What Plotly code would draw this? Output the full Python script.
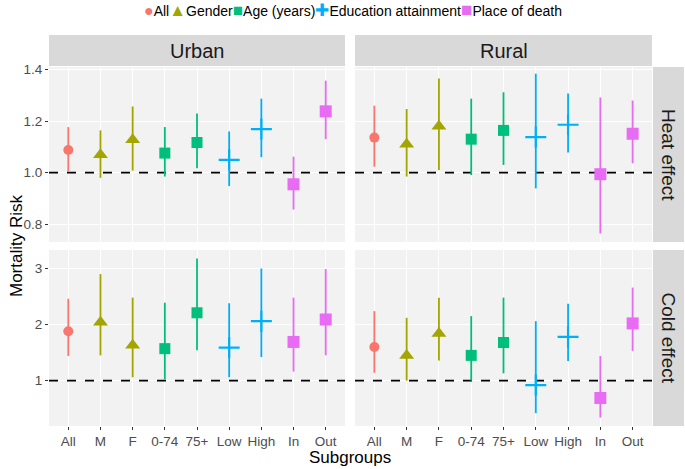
import plotly.graph_objects as go
from plotly.subplots import make_subplots

categories = ["All", "M", "F", "0-74", "75+", "Low", "High", "In", "Out"]
cat_group = ["All", "Gender", "Gender", "Age (years)", "Age (years)",
             "Education attainment", "Education attainment", "Place of death", "Place of death"]
groups = ["All", "Gender", "Age (years)", "Education attainment", "Place of death"]
group_colors = ["#F8766D", "#A3A500", "#00BF7D", "#00B0F6", "#E76BF3"]
group_symbols = ["circle", "triangle-up", "square", "cross-thin", "square"]
group_glyphs = ["●", "▲", "■", "✚", "■"]
group_sizes = [10, 13, 11, 15, 12]

heat_urban_est = [1.088, 1.070, 1.128, 1.076, 1.117, 1.050, 1.169, 0.955, 1.238]
heat_urban_lo = [1.004, 0.980, 1.008, 0.985, 1.017, 0.948, 1.060, 0.857, 1.130]
heat_urban_hi = [1.177, 1.164, 1.257, 1.177, 1.230, 1.160, 1.287, 1.062, 1.357]

heat_rural_est = [1.136, 1.110, 1.180, 1.130, 1.164, 1.138, 1.186, 0.994, 1.151]
heat_rural_lo = [1.023, 0.985, 1.010, 0.991, 1.030, 0.939, 1.078, 0.764, 1.037]
heat_rural_hi = [1.260, 1.247, 1.365, 1.287, 1.312, 1.384, 1.307, 1.292, 1.280]

cold_urban_est = [1.88, 2.04, 1.63, 1.57, 2.21, 1.59, 2.06, 1.69, 2.09]
cold_urban_lo = [1.44, 1.45, 1.06, 1.02, 1.54, 1.06, 1.42, 1.16, 1.45]
cold_urban_hi = [2.46, 2.90, 2.48, 2.39, 3.18, 2.38, 3.00, 2.48, 2.99]

cold_rural_est = [1.60, 1.45, 1.84, 1.45, 1.68, 0.92, 1.78, 0.69, 2.02]
cold_rural_lo = [1.14, 1.00, 1.36, 1.00, 1.13, 0.42, 1.35, 0.34, 1.53]
cold_rural_hi = [2.24, 2.12, 2.48, 2.15, 2.48, 2.06, 2.37, 1.44, 2.66]

col_labels = ["Urban", "Rural"]
row_labels = ["Heat effect", "Cold effect"]
heat_ticks = [0.8, 1.0, 1.2, 1.4]
cold_ticks = [1, 2, 3]
reference_value = 1.0

panels = {
    (1, 1): (heat_urban_est, heat_urban_lo, heat_urban_hi),
    (1, 2): (heat_rural_est, heat_rural_lo, heat_rural_hi),
    (2, 1): (cold_urban_est, cold_urban_lo, cold_urban_hi),
    (2, 2): (cold_rural_est, cold_rural_lo, cold_rural_hi),
}

W, H = 685, 469
FONT = "Liberation Sans, Arial, sans-serif"
x_range = [-0.6, len(categories) - 1 + 0.6]

fig = make_subplots(rows=2, cols=2)

xpos = list(range(len(categories)))
for (r, c), (est, lo, hi) in panels.items():
    fig.add_trace(go.Scatter(
        x=x_range, y=[reference_value, reference_value], mode="lines",
        line=dict(color="black", width=1.6, dash="dash"),
        showlegend=False, hoverinfo="skip"), row=r, col=c)
    for gi, g in enumerate(groups):
        idx = [i for i, cg in enumerate(cat_group) if cg == g]
        xs = [xpos[i] for i in idx]
        ys = [est[i] for i in idx]
        ep = [hi[i] - est[i] for i in idx]
        em = [est[i] - lo[i] for i in idx]
        col = group_colors[gi]
        sym = group_symbols[gi]
        marker = dict(color=col, size=group_sizes[gi], symbol=sym,
                      line=dict(width=2.2 if sym == "cross-thin" else 0, color=col))
        fig.add_trace(go.Scatter(
            x=xs, y=ys, mode="markers", name=g, showlegend=False,
            marker=marker,
            error_y=dict(type="data", symmetric=False, array=ep, arrayminus=em,
                         color=col, thickness=1.8, width=0),
        ), row=r, col=c)

xdom = [[49 / W, 345 / W], [355 / W, 652 / W]]
ydom = [[1 - 242 / H, 1 - 67 / H], [1 - 426 / H, 1 - 250 / H]]

axis_common = dict(showgrid=True, gridcolor="white", gridwidth=1.1, zeroline=False,
                   showline=False, automargin=False,
                   tickfont=dict(family=FONT, size=13.5, color="#4D4D4D"))
for r in (1, 2):
    for c in (1, 2):
        k = (r - 1) * 2 + c
        xa = "xaxis" if k == 1 else f"xaxis{k}"
        ya = "yaxis" if k == 1 else f"yaxis{k}"
        fig.layout[xa].update(
            domain=xdom[c - 1], range=x_range, tickmode="array",
            tickvals=xpos, ticktext=categories,
            showticklabels=(r == 2), ticks="outside" if r == 2 else "",
            ticklen=3, tickcolor="#333333", tickwidth=1.1, **axis_common)
        if r == 1:
            rng, tv, tt = [0.731, 1.41], heat_ticks, [f"{v:.1f}" for v in heat_ticks]
        else:
            rng, tv, tt = [0.19, 3.33], cold_ticks, [str(v) for v in cold_ticks]
        fig.layout[ya].update(
            domain=ydom[r - 1], range=rng, tickmode="array", tickvals=tv, ticktext=tt,
            showticklabels=(c == 1), ticks="outside" if c == 1 else "",
            ticklen=3, tickcolor="#333333", tickwidth=1.1, **axis_common)

strip_col = "#D9D9D9"
for c in (1, 2):
    fig.add_shape(type="rect", xref="paper", yref="paper",
                  x0=xdom[c - 1][0], x1=xdom[c - 1][1], y0=1 - 66 / H, y1=1 - 35 / H,
                  fillcolor=strip_col, line=dict(width=0), layer="below")
    fig.add_annotation(x=sum(xdom[c - 1]) / 2, y=1 - 51 / H, xref="paper", yref="paper",
                       xanchor="center", yanchor="middle",
                       text=col_labels[c - 1], showarrow=False,
                       font=dict(family=FONT, size=20, color="#1A1A1A"))
for r in (1, 2):
    fig.add_shape(type="rect", xref="paper", yref="paper",
                  x0=653 / W, x1=684 / W, y0=ydom[r - 1][0], y1=ydom[r - 1][1],
                  fillcolor=strip_col, line=dict(width=0), layer="below")
    fig.add_annotation(x=668.5 / W, y=sum(ydom[r - 1]) / 2, xref="paper", yref="paper",
                       xanchor="center", yanchor="middle",
                       text=row_labels[r - 1], showarrow=False, textangle=90,
                       font=dict(family=FONT, size=19, color="#1A1A1A"))

fig.add_annotation(x=16 / W, y=1 - 246 / H, xref="paper", yref="paper", text="Mortality Risk",
                   xanchor="center", yanchor="middle",
                   showarrow=False, textangle=-90, font=dict(family=FONT, size=17, color="black"))
fig.add_annotation(x=350 / W, y=1 - 457 / H, xref="paper", yref="paper", text="Subgroups",
                   xanchor="center", yanchor="middle",
                   showarrow=False, font=dict(family=FONT, size=17, color="black"))

# compact legend (ggplot-style), built from the group lists
glyph_px = [16, 17, 17, 17, 19]
legend_parts = []
for gi, g in enumerate(groups):
    legend_parts.append(
        f'<span style="color:{group_colors[gi]};font-size:{glyph_px[gi]}px">{group_glyphs[gi]}</span>{g}')
fig.add_annotation(x=353 / W, y=1 - 10 / H, xref="paper", yref="paper",
                   xanchor="center", yanchor="middle", showarrow=False,
                   text="".join(legend_parts),
                   font=dict(family=FONT, size=14, color="black"))

fig.update_layout(
    width=W, height=H, margin=dict(l=0, r=0, t=0, b=0, pad=0, autoexpand=False),
    paper_bgcolor="white", plot_bgcolor="#F2F2F2",
    font=dict(family=FONT), showlegend=False,
)

fig.write_html("out.html", config={"displayModeBar": False},
               post_script="document.body.style.margin='0';document.body.style.padding='0';")
